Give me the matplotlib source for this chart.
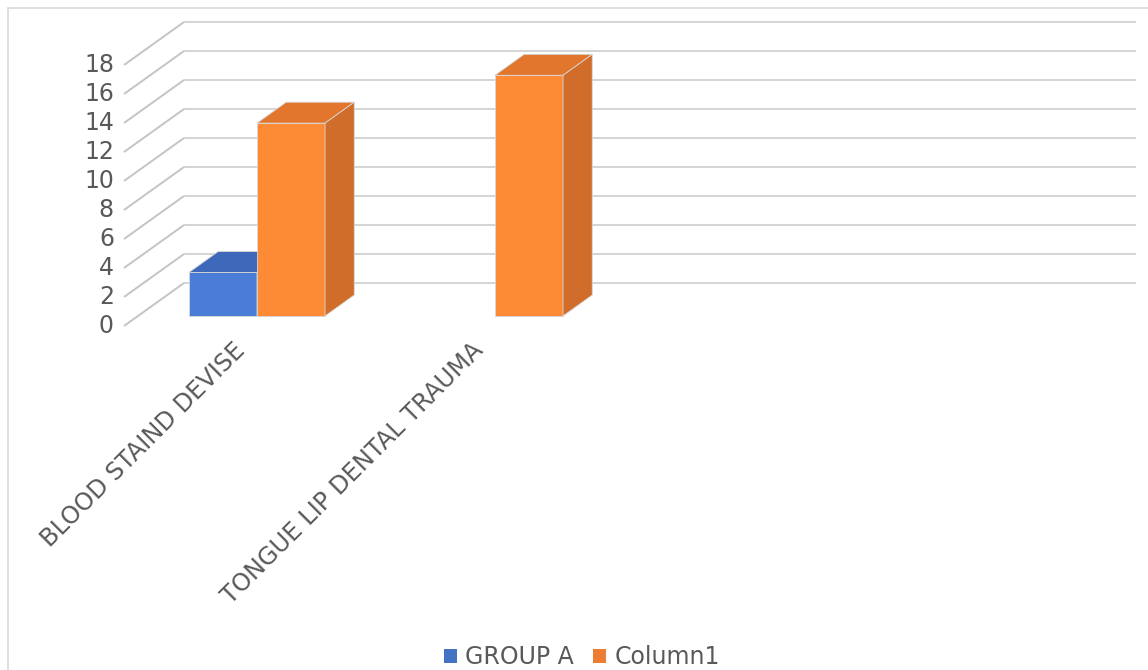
import matplotlib
matplotlib.use("Agg")
import matplotlib.pyplot as plt
from matplotlib.patches import Polygon, Patch, Rectangle

# data
categories = ["BLOOD STAIND DEVISE", "TONGUE LIP DENTAL TRAUMA", "", ""]
series_names = ["GROUP A", "Column1"]
group_a = [3, 0, 0, 0]
column1 = [13.3, 16.6, 0, 0]
yticks = list(range(0, 20, 2))

# pixel geometry of the fake 3D box (Excel style oblique view)
W, H = 1148, 670
CAT_PX = 238.0        # px per category
UNIT_PX = 14.5        # px per value unit
X0_PX, Y0_PX = 243.0, 326.0   # front floor, category 0, value 0
DEPTH_DX, DEPTH_DY = 60.0, 43.0
DX = DEPTH_DX / CAT_PX
DY = DEPTH_DY / UNIT_PX
BAR_Z0, BAR_Z1 = 0.233, 0.72
BAR_W = 0.286

FACE = {0: ("#4A7DD7", "#3E69BA", "#3A62AD"),
        1: ("#FD8A35", "#E2762D", "#D06D2A")}
LEGEND_C = ["#4472C4", "#ED7D31"]
GRID_C = "#d4d4d4"
TEXT_C = "#595959"
FS = 17


def proj(x, v, z):
    return (x + z * DX, v + z * DY)


fig = plt.figure(figsize=(W / 100, H / 100), dpi=100)
ax = fig.add_axes([0, 0, 1, 1])
ax.set_xlim(-X0_PX / CAT_PX, (W - X0_PX) / CAT_PX)
ax.set_ylim((Y0_PX - H) / UNIT_PX, Y0_PX / UNIT_PX)
ax.axis("off")

# chart frame
fig.add_artist(Rectangle((8 / W, -0.1), 1.2, 1.1 - 8 / H, transform=fig.transFigure,
                         fill=False, ec="#d9d9d9", lw=1.2))

x_lo, x_hi = -0.5, len(categories) - 0.5
for t in yticks:
    # back wall
    p0, p1 = proj(x_lo, t, 1), proj(x_hi, t, 1)
    ax.plot([p0[0], p1[0]], [p0[1], p1[1]], color=GRID_C, lw=1.4, zorder=1,
            solid_capstyle="butt")
    # side wall
    p0, p1 = proj(x_lo, t, 0), proj(x_lo, t, 1)
    ax.plot([p0[0], p1[0]], [p0[1], p1[1]], color="#c4c4c4", lw=1.4, zorder=1,
            solid_capstyle="butt")
    ax.text(x_lo - 10 / CAT_PX, t, str(t), ha="right", va="center",
            fontsize=FS, color=TEXT_C)


def bar3d(x_left, h, j):
    front, top, side = FACE[j]
    xr = x_left + BAR_W
    faces = [
        ([(x_left, 0, BAR_Z0), (xr, 0, BAR_Z0), (xr, h, BAR_Z0), (x_left, h, BAR_Z0)], front),
        ([(x_left, h, BAR_Z0), (xr, h, BAR_Z0), (xr, h, BAR_Z1), (x_left, h, BAR_Z1)], top),
        ([(xr, 0, BAR_Z0), (xr, 0, BAR_Z1), (xr, h, BAR_Z1), (xr, h, BAR_Z0)], side),
    ]
    for pts, c in faces:
        ax.add_patch(Polygon([proj(*p) for p in pts], closed=True, fc=c,
                             ec="#d8d8d8", lw=0.6, zorder=3))


for i in range(len(categories)):
    for j, vals in enumerate((group_a, column1)):
        if vals[i] > 0:
            bar3d(i - BAR_W + j * BAR_W, vals[i], j)

for i, lab in enumerate(categories):
    if lab:
        ax.text(i - 10 / CAT_PX, -12 / UNIT_PX, lab, rotation=45, rotation_mode="anchor",
                ha="right", va="top", fontsize=17.4, color=TEXT_C)

handles = [Patch(fc=c, ec="none", label=n) for c, n in zip(LEGEND_C, series_names)]
fig.legend(handles=handles, loc="center", bbox_to_anchor=(582 / W, 1 - 657 / H),
           ncol=2, frameon=False, fontsize=FS, handlelength=0.55, handleheight=0.55,
           handletextpad=0.35, columnspacing=0.8, labelcolor=TEXT_C)

fig.savefig("out.png", dpi=100)
